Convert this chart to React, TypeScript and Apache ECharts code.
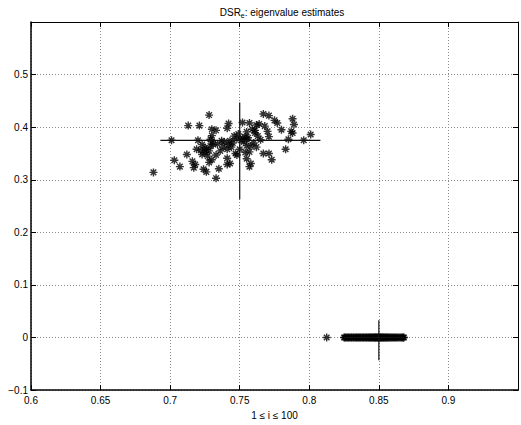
import React, { useEffect, useRef } from "react";
import * as echarts from "echarts";

const xTicks = [0.6, 0.65, 0.7, 0.75, 0.8, 0.85, 0.9, 0.95];
const yTicks = [-0.1, 0, 0.1, 0.2, 0.3, 0.4, 0.5, 0.6];

const clusterA: number[][] = [
  [0.767, 0.425], [0.771, 0.422], [0.728, 0.423], [0.788, 0.416], [0.775, 0.413],
  [0.777, 0.408], [0.789, 0.405], [0.713, 0.403], [0.721, 0.403], [0.742, 0.407],
  [0.752, 0.409], [0.757, 0.408], [0.762, 0.404], [0.764, 0.406], [0.768, 0.402],
  [0.741, 0.398], [0.730, 0.396], [0.733, 0.394], [0.755, 0.391], [0.761, 0.394],
  [0.761, 0.389], [0.787, 0.392], [0.788, 0.389], [0.801, 0.386], [0.771, 0.382],
  [0.763, 0.383], [0.730, 0.384], [0.752, 0.379], [0.754, 0.381], [0.751, 0.375],
  [0.701, 0.375], [0.720, 0.375], [0.729, 0.377], [0.730, 0.372], [0.737, 0.374],
  [0.739, 0.372], [0.743, 0.374], [0.745, 0.370], [0.755, 0.377], [0.756, 0.380],
  [0.785, 0.377], [0.796, 0.375], [0.723, 0.367], [0.725, 0.361], [0.729, 0.364],
  [0.731, 0.367], [0.742, 0.367], [0.750, 0.358], [0.755, 0.365], [0.758, 0.364],
  [0.762, 0.362], [0.719, 0.358], [0.722, 0.356], [0.726, 0.358], [0.728, 0.355],
  [0.741, 0.358], [0.783, 0.358], [0.723, 0.348], [0.725, 0.352], [0.733, 0.347],
  [0.747, 0.350], [0.748, 0.347], [0.754, 0.352], [0.757, 0.353], [0.767, 0.350],
  [0.771, 0.350], [0.741, 0.341], [0.755, 0.340], [0.773, 0.338], [0.703, 0.337],
  [0.716, 0.335], [0.718, 0.329], [0.730, 0.338], [0.728, 0.333], [0.741, 0.329],
  [0.743, 0.331], [0.758, 0.331], [0.757, 0.325], [0.707, 0.325], [0.717, 0.323],
  [0.724, 0.320], [0.726, 0.315], [0.735, 0.321], [0.733, 0.303], [0.688, 0.314],
  [0.748, 0.378], [0.746, 0.383], [0.753, 0.372], [0.738, 0.362], [0.734, 0.368],
  [0.760, 0.370], [0.765, 0.376], [0.727, 0.345], [0.744, 0.362], [0.736, 0.355],
  [0.770, 0.392], [0.780, 0.395], [0.712, 0.348], [0.759, 0.396], [0.749, 0.387],
];

const clusterBx: number[] = [
  0.8125,
  0.8250, 0.8256, 0.8262, 0.8271, 0.8279, 0.8284, 0.8293, 0.8301, 0.8307, 0.8316,
  0.8322, 0.8331, 0.8338, 0.8345, 0.8352, 0.8359, 0.8366, 0.8372, 0.8381, 0.8387,
  0.8394, 0.8401, 0.8408, 0.8413, 0.8421, 0.8427, 0.8434, 0.8439, 0.8446, 0.8452,
  0.8457, 0.8463, 0.8469, 0.8474, 0.8478, 0.8483, 0.8489, 0.8494, 0.8498, 0.8502,
  0.8507, 0.8511, 0.8516, 0.8521, 0.8526, 0.8532, 0.8537, 0.8543, 0.8549, 0.8555,
  0.8561, 0.8568, 0.8574, 0.8581, 0.8589, 0.8596, 0.8604, 0.8612, 0.8619, 0.8627,
  0.8636, 0.8644, 0.8653, 0.8662, 0.8669, 0.8676, 0.8680,
];
const clusterBy = 0;

const crossAH = [[0.693, 0.375], [0.808, 0.375]];
const crossAV = [[0.750, 0.447], [0.750, 0.263]];
const crossBH = [[0.825, 0], [0.868, 0]];
const crossBV = [[0.850, 0.033], [0.850, -0.043]];

const STAR = "path://M4 0L4 8M0 4L8 4M1.2 1.2L6.8 6.8M1.2 6.8L6.8 1.2";
const FONT = "Liberation Sans";

export default function App() {
  const ref = useRef<HTMLDivElement>(null);
  useEffect(() => {
    if (!ref.current) return;
    const chart = echarts.init(ref.current, undefined, { renderer: "svg" });
    const fmt = (v: number, maxV: number) => {
      if (Math.abs(v - maxV) < 1e-9) return "";
      const s = String(Math.round(v * 100) / 100);
      return s.replace("-", "\u2212");
    };
    const lineBase = {
      type: "line",
      showSymbol: false,
      symbol: "none",
      lineStyle: { color: "#111", width: 1.2 },
      z: 5,
      silent: true,
    };
    const starItem = { color: "transparent", borderColor: "#000", borderWidth: 1.4 };
    chart.setOption({
      animation: false,
      backgroundColor: "#fff",
      title: {
        text: "{a|DSR}{b|e}{a|: eigenvalue estimates}",
        left: 277,
        top: 1,
        textAlign: "center",
        textStyle: {
          fontWeight: "normal",
          rich: {
            a: { fontFamily: FONT, fontSize: 10, color: "#000", fontWeight: "normal" },
            b: { fontFamily: FONT, fontSize: 7, color: "#000", fontWeight: "normal", padding: [6, 0, 0, 0] },
          },
        },
      },
      grid: { left: 31, top: 22, width: 491, height: 370, containLabel: false },
      xAxis: [
        {
          type: "value",
          min: xTicks[0],
          max: xTicks[xTicks.length - 1],
          interval: 0.05,
          position: "bottom",
          name: "1 \u2264 i \u2264 100",
          nameLocation: "middle",
          nameGap: 16,
          nameTextStyle: { fontFamily: FONT, fontSize: 10, color: "#000", verticalAlign: "top" },
          axisLine: { show: true, onZero: false, lineStyle: { color: "#000", width: 1.5 } },
          axisTick: { show: true, inside: true, length: 5, lineStyle: { color: "#000" } },
          axisLabel: {
            fontFamily: FONT,
            fontSize: 10,
            color: "#000",
            margin: 5,
            formatter: (v: number) => fmt(v, 0.95),
          },
          splitLine: { show: true, lineStyle: { color: "#8a8a8a", type: [1, 2], width: 1 } },
        },
        {
          type: "value",
          min: xTicks[0],
          max: xTicks[xTicks.length - 1],
          interval: 0.05,
          position: "top",
          axisLine: { show: true, onZero: false, lineStyle: { color: "#000", width: 1 } },
          axisTick: { show: true, inside: true, length: 5, lineStyle: { color: "#000" } },
          axisLabel: { show: false },
          splitLine: { show: false },
        },
      ],
      yAxis: [
        {
          type: "value",
          min: yTicks[0],
          max: yTicks[yTicks.length - 1],
          interval: 0.1,
          position: "left",
          axisLine: { show: true, onZero: false, lineStyle: { color: "#000", width: 1.5 } },
          axisTick: { show: true, inside: true, length: 5, lineStyle: { color: "#000" } },
          axisLabel: {
            fontFamily: FONT,
            fontSize: 10,
            color: "#000",
            margin: 3,
            formatter: (v: number) => fmt(v, 0.6),
          },
          splitLine: { show: true, lineStyle: { color: "#8a8a8a", type: [1, 2], width: 1 } },
        },
        {
          type: "value",
          min: yTicks[0],
          max: yTicks[yTicks.length - 1],
          interval: 0.1,
          position: "right",
          axisLine: { show: true, onZero: false, lineStyle: { color: "#000", width: 1 } },
          axisTick: { show: true, inside: true, length: 5, lineStyle: { color: "#000" } },
          axisLabel: { show: false },
          splitLine: { show: false },
        },
      ],
      series: [
        {
          type: "scatter",
          data: clusterA,
          symbol: STAR,
          symbolSize: 8,
          itemStyle: starItem,
          silent: true,
        },
        {
          type: "scatter",
          data: clusterBx.map((x) => [x, clusterBy]),
          symbol: STAR,
          symbolSize: 8,
          itemStyle: starItem,
          silent: true,
        },
        { ...lineBase, data: crossAH },
        { ...lineBase, data: crossAV },
        { ...lineBase, data: crossBH },
        { ...lineBase, data: crossBV },
      ],
    });
    return () => chart.dispose();
  }, []);
  return (
    <div
      ref={ref}
      style={{ position: "fixed", left: 0, top: 0, width: 521, height: 425, background: "#fff" }}
    />
  );
}
